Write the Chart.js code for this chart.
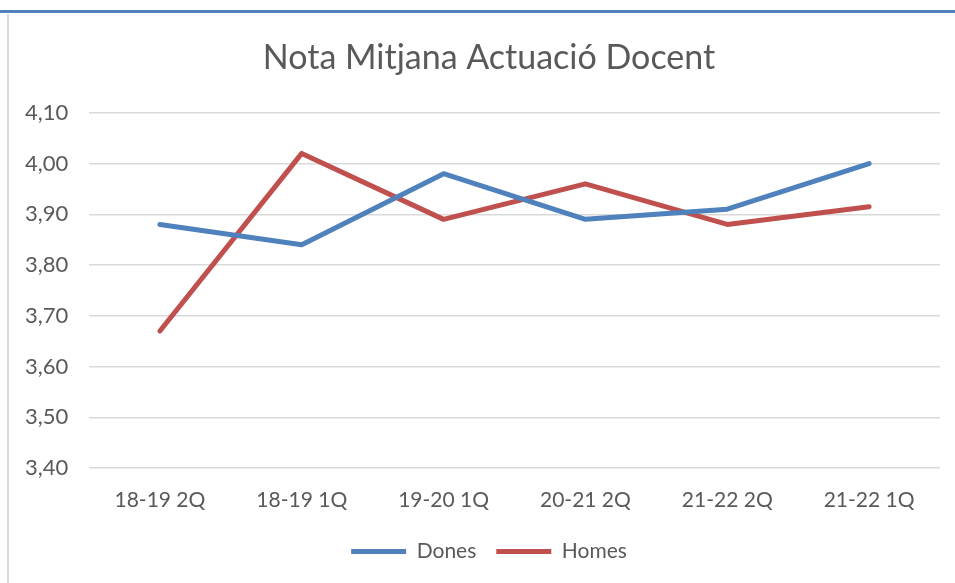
<!DOCTYPE html>
<html>
<head>
<meta charset="utf-8">
<script src="https://cdn.jsdelivr.net/npm/chart.js@4/dist/chart.umd.min.js"></script>
<style>
    html, body { margin: 0; padding: 0; background: #fff; }
    #wrap { position: relative; width: 955px; height: 583px; overflow: hidden; }
    #topLine { position: absolute; left: 0; top: 10px; width: 955px; height: 3px; background: #4f81bd; }
    #leftLine { position: absolute; left: 7px; top: 14px; width: 2px; height: 569px; background: #d9d9d9; }
    #chartBox { position: absolute; left: 0; top: 0; width: 955px; height: 583px; }
</style>
</head>
<body>
<div id="wrap">
    <div id="chartBox"><canvas id="notaChart"></canvas></div>
    <div id="topLine"></div>
    <div id="leftLine"></div>
</div>
<script>
// Nota mitjana per quadrimestre
const categories = ['18-19 2Q', '18-19 1Q', '19-20 1Q', '20-21 2Q', '21-22 2Q', '21-22 1Q'];
const dones = [3.88, 3.84, 3.98, 3.89, 3.91, 4.00];
const homes = [3.67, 4.02, 3.89, 3.96, 3.88, 3.915];
const yTicks = [3.40, 3.50, 3.60, 3.70, 3.80, 3.90, 4.00, 4.10];

const textColor = '#595959';
const fontFamily = 'Lato, "Open Sans", sans-serif';

const canvas = document.getElementById('notaChart');

new Chart(canvas, {
    type: 'line',
    data: {
        labels: categories,
        datasets: [{
            label: 'Dones',
            data: dones,
            borderColor: '#4f81bd',
            backgroundColor: '#4f81bd',
            borderWidth: 5,
            borderCapStyle: 'round',
            borderJoinStyle: 'round',
            pointRadius: 0,
            tension: 0
        }, {
            label: 'Homes',
            data: homes,
            borderColor: '#c0504d',
            backgroundColor: '#c0504d',
            borderWidth: 5,
            borderCapStyle: 'round',
            borderJoinStyle: 'round',
            pointRadius: 0,
            tension: 0
        }]
    },
    options: {
        responsive: true,
        maintainAspectRatio: false,
        animation: false,
        layout: {
            // left padding keeps title and legend centred like the original
            padding: { top: 38, right: 15, bottom: 11, left: 38 }
        },
        scales: {
            y: {
                min: 3.40,
                max: 4.10,
                afterBuildTicks: function(scale) {
                    scale.ticks = yTicks.map(v => ({ value: v }));
                },
                afterFit: function(scale) {
                    scale.width = 51;
                },
                border: { display: false },
                grid: { color: '#d9d9d9', lineWidth: 1.5, drawTicks: false },
                ticks: {
                    color: textColor,
                    font: { family: fontFamily, size: 22 },
                    // mirrored so the labels are not clipped to the narrow axis box
                    mirror: true,
                    padding: -64,
                    callback: function(value) {
                        return value.toFixed(2).replace('.', ',');
                    }
                }
            },
            x: {
                offset: true,
                afterFit: function(scale) {
                    scale.height = 53;
                },
                border: { display: false },
                grid: { display: false, drawTicks: false },
                ticks: {
                    color: textColor,
                    font: { family: fontFamily, size: 21 },
                    padding: 20,
                    maxRotation: 0
                }
            }
        },
        plugins: {
            title: {
                display: true,
                text: 'Nota Mitjana Actuació Docent',
                color: textColor,
                font: { family: fontFamily, size: 34, weight: 'normal' },
                padding: { top: 0, bottom: 34 }
            },
            legend: {
                position: 'bottom',
                labels: {
                    color: textColor,
                    font: { family: fontFamily, size: 21 },
                    usePointStyle: true,
                    pointStyle: 'line',
                    pointStyleWidth: 55,
                    padding: 20
                }
            },
            tooltip: { enabled: false }
        }
    }
});
</script>
</body>
</html>
